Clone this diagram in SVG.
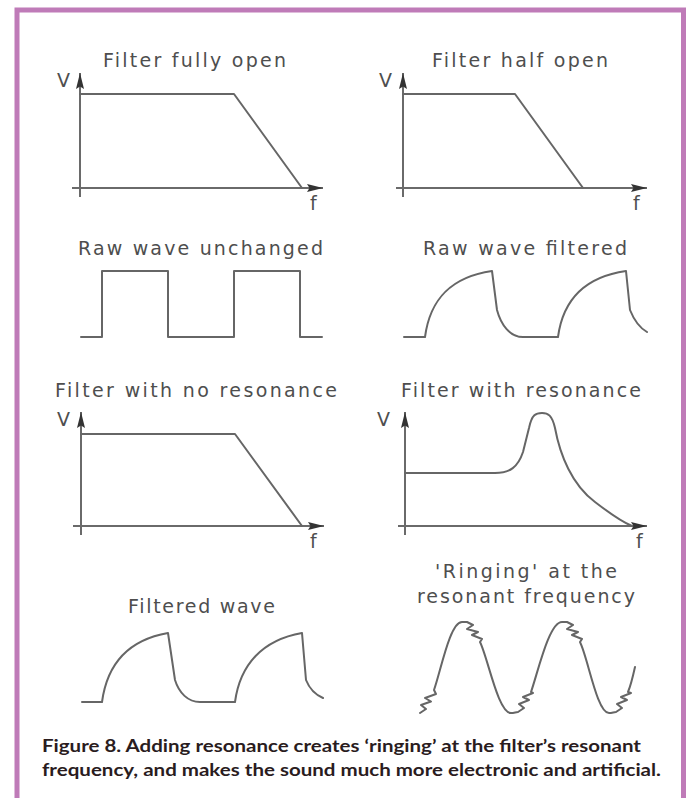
<svg xmlns="http://www.w3.org/2000/svg" width="691" height="798" viewBox="0 0 691 798">
<defs>
<marker id="ah" viewBox="0 0 16 9" refX="16" refY="4.5" markerWidth="16" markerHeight="9" markerUnits="userSpaceOnUse" orient="auto">
<path d="M0,0.5 L16,4.5 L0,8.5 L2.5,4.5 Z" fill="#333333"/>
</marker>
<style>
.t{font-family:"DejaVu Sans",Verdana,sans-serif;font-size:19px;fill:#4e4e4e;}
.ax{stroke:#6a6a6a;stroke-width:2;fill:none;}
.ln{stroke:#666666;stroke-width:2;fill:none;stroke-linejoin:round;stroke-linecap:round;}
.cap{font-family:Lato,"Open Sans",sans-serif;font-weight:700;font-size:16.5px;fill:#2a1c1e;}
</style>
</defs>
<rect width="691" height="798" fill="#ffffff"/>
<rect id="frame" x="17" y="10" width="666.5" height="820" fill="none" stroke="#bf7bb8" stroke-width="5"/>

<g id="panel-fully-open">
<text class="t" x="103" y="67" textLength="183" lengthAdjust="spacing">Filter fully open</text>
<text class="t" x="57" y="87">V</text>
<text class="t" x="310" y="210">f</text>
<line class="ax" x1="80" y1="197" x2="80" y2="73" marker-end="url(#ah)"/>
<line class="ax" x1="72" y1="188" x2="323" y2="188" marker-end="url(#ah)"/>
<path class="ln" d="M80,94 H234 L302,188"/>
</g>

<g id="panel-half-open">
<text class="t" x="432" y="67" textLength="176" lengthAdjust="spacing">Filter half open</text>
<text class="t" x="379" y="87">V</text>
<text class="t" x="633" y="210">f</text>
<line class="ax" x1="403" y1="197" x2="403" y2="73" marker-end="url(#ah)"/>
<line class="ax" x1="396" y1="188" x2="647" y2="188" marker-end="url(#ah)"/>
<path class="ln" d="M403,94 H515 L583,188"/>
</g>

<g id="panel-raw-unchanged">
<text class="t" x="78" y="255" textLength="245" lengthAdjust="spacing">Raw wave unchanged</text>
<path class="ln" d="M81,337 H102 V271 H168 V337 H234 V271 H300 V337 H322"/>
</g>

<g id="panel-raw-filtered">
<text class="t" x="423" y="255" textLength="204" lengthAdjust="spacing">Raw wave filtered</text>
<path class="ln" d="M404,337 H425 C430,300 450,277 492,271 L497,310 C501,325 510,337 523,337 H558 C563,300 584,277 626,271 L630,310 C634,320 640,328 647,332"/>
</g>

<g id="panel-no-resonance">
<text class="t" x="55" y="397" textLength="282" lengthAdjust="spacing">Filter with no resonance</text>
<text class="t" x="57" y="426">V</text>
<text class="t" x="310" y="548">f</text>
<line class="ax" x1="81" y1="535" x2="81" y2="412" marker-end="url(#ah)"/>
<line class="ax" x1="73" y1="526" x2="324" y2="526" marker-end="url(#ah)"/>
<path class="ln" d="M81,434 H235 L302,526"/>
</g>

<g id="panel-resonance">
<text class="t" x="401" y="397" textLength="240" lengthAdjust="spacing">Filter with resonance</text>
<text class="t" x="377" y="426">V</text>
<text class="t" x="636" y="548">f</text>
<line class="ax" x1="405" y1="535" x2="405" y2="412" marker-end="url(#ah)"/>
<line class="ax" x1="398" y1="526" x2="647" y2="526" marker-end="url(#ah)"/>
<path class="ln" d="M405,473 H495 C510,473 518,467 523,452 L529,428 C532,414 536,413 542,413 C548,413 552,415 555,428 C560,455 572,485 595,502 C608,512 620,521 632,526"/>
</g>

<g id="panel-filtered-wave">
<text class="t" x="128" y="613" textLength="147" lengthAdjust="spacing">Filtered wave</text>
<path class="ln" d="M82,702 H102 C107,665 128,640 168,633 L175,680 C179,693 188,702 200,702 H235 C240,665 262,640 302,633 L306,680 C310,690 316,695 323,698"/>
</g>

<g id="panel-ringing">
<text class="t" x="435" y="578" textLength="182" lengthAdjust="spacing">'Ringing' at the</text>
<text class="t" x="417" y="603" textLength="218" lengthAdjust="spacing">resonant frequency</text>
<path class="ln" d="M420,713 L426,709 L421,705 L431,701.5 L425,698 L436,694 L434,690 C441,670 450,622 462,622 C465,622 466,622 467,622 L473,625 L467,629 L478,632 L472,635 L482,639 L480,642 C488,658 498,713 511,713 C514,713 516,712 518,712 L524,708 L519,704 L529,700 L523,697 L533,693 L531,692 C538,672 549,622 562,622 C565,622 566,622 567,622 L573,625 L567,629 L578,632 L572,635 L582,639 L580,642 C588,658 597,713 609,713 C612,713 614,712 616,712 L622,708 L617,704 L627,700 L621,697 L631,693 L628,692 C631,685 633,676 635,667"/>
</g>

<g id="caption">
<text class="cap" x="42" y="752" textLength="599" lengthAdjust="spacingAndGlyphs">Figure 8. Adding resonance creates ‘ringing’ at the filter’s resonant</text>
<text class="cap" x="42" y="776" textLength="619" lengthAdjust="spacingAndGlyphs">frequency, and makes the sound much more electronic and artificial.</text>
</g>
</svg>
